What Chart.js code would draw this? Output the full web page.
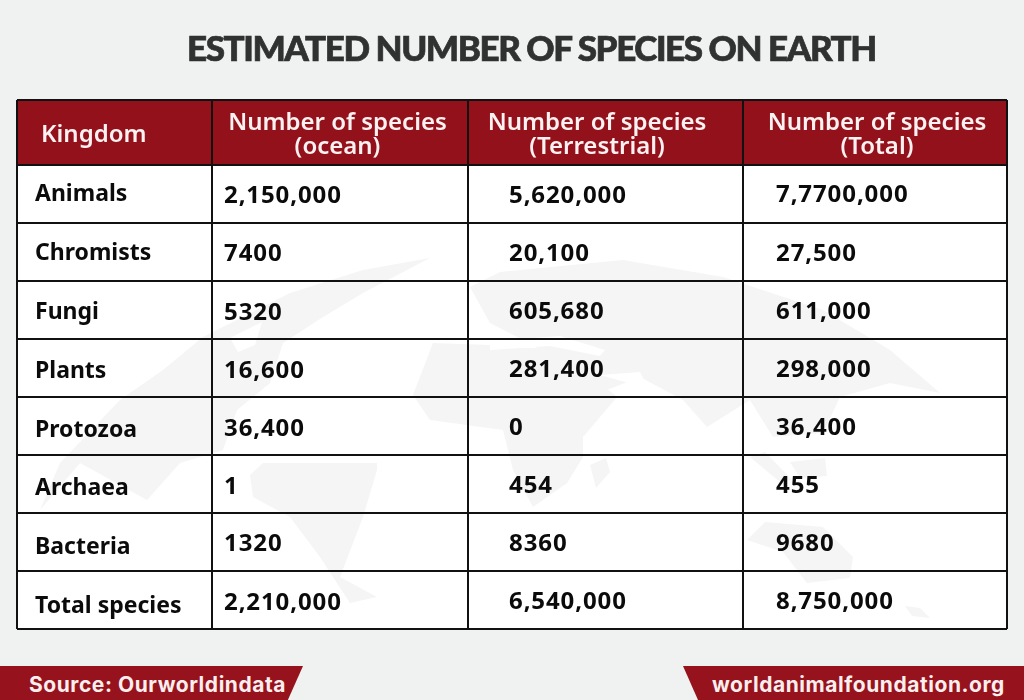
<!DOCTYPE html>
<html>
<head>
<meta charset="utf-8">
<title>Estimated number of species on Earth</title>
<script src="https://cdn.jsdelivr.net/npm/chart.js@4"></script>
<style>
  html, body { margin: 0; padding: 0; background: #f0f2f1; }
  #page { position: relative; width: 1024px; height: 700px; overflow: hidden; }
  canvas { position: absolute; left: 0; top: 0; }
  h1 { position: absolute; left: 187px; top: 26px; margin: 0; white-space: nowrap;
       font: 900 35px Lato, sans-serif; letter-spacing: -1.42px; -webkit-text-stroke: 0.7px #2f3231; color: #2f3231; }
  .tag { position: absolute; top: 666px; height: 34px; background: #96121c; color: #fbeeee;
         font: 700 21px/38px Inter, sans-serif; letter-spacing: 0.55px; white-space: nowrap; box-sizing: border-box; }
  #source { left: 0; width: 303px; padding-left: 29px; clip-path: polygon(0 0, 100% 0, 95% 100%, 0 100%); }
  #site { left: 683px; width: 341px; padding-left: 29px; clip-path: polygon(0 0, 100% 0, 100% 100%, 4.4% 100%); }
</style>
</head>
<body>
<div id="page">
  <canvas id="table" width="1024" height="700"></canvas>
  <h1>ESTIMATED NUMBER OF SPECIES ON EARTH</h1>
  <div class="tag" id="source">Source: Ourworldindata</div>
  <div class="tag" id="site">worldanimalfoundation.org</div>
</div>
<script>
// table content
const kingdoms = ['Animals', 'Chromists', 'Fungi', 'Plants', 'Protozoa', 'Archaea', 'Bacteria', 'Total species'];
const oceanSpecies = ['2,150,000', '7400', '5320', '16,600', '36,400', '1', '1320', '2,210,000'];
const terrestrialSpecies = ['5,620,000', '20,100', '605,680', '281,400', '0', '454', '8360', '6,540,000'];
const totalSpecies = ['7,7700,000', '27,500', '611,000', '298,000', '36,400', '455', '9680', '8,750,000'];
const headerLines = [['Kingdom'], ['Number of species', '(ocean)'], ['Number of species', '(Terrestrial)'], ['Number of species', '(Total)']];

// column edges and text starts, in x axis units
const columnEdges = [0, 195, 451, 726, 990];
const columnTextX = [18, 207, 492, 759];
const headerTextX = [24, 320.5, 580, 860];
const headerHeight = 65 / 58; // in rows

// the text in the picture is not quite centred, nudge per row (px)
const rowNudge = [
    [0.5, 1.5, 2.5, 3.5, 4.5, 4.5, 5.5, 6.5],
    [2.5, 2.5, 3.5, 3.5, 3.5, 3.5, 2.5, 3.5],
    [2.5, 2.5, 2.5, 2.5, 2.5, 2.5, 2.5, 2.5],
    [1.5, 2.5, 2.5, 2.5, 2.5, 2.5, 2.5, 2.5]
];

// faint world map behind the table, page pixels
const mapShapes = [
    [[40,510],[60,463],[120,400],[163,370],[203,337],[290,293],[363,270],[430,258],[363,293],[323,317],[283,343],[270,383],[237,410],[223,450],[180,463],[147,500],[80,463]],
    [[263,463],[377,463],[377,470],[363,517],[340,577],[377,597],[350,603],[320,557],[290,517],[253,497],[250,475]],
    [[413,395],[433,343],[490,345],[560,350],[617,397],[583,437],[583,457],[567,483],[533,507],[513,470],[503,430],[430,420]],
    [[590,465],[606,458],[610,472],[596,488]],
    [[470,287],[500,272],[623,260],[723,277],[823,310],[890,350],[940,393],[890,383],[840,397],[823,433],[773,437],[750,400],[707,427],[683,400],[640,377],[607,390],[523,340],[490,323]],
    [[750,457],[765,452],[792,480],[780,482]],
    [[790,462],[825,458],[827,476],[800,478]],
    [[747,540],[765,522],[823,527],[853,557],[850,578],[807,583],[783,552]],
    [[905,606],[920,608],[930,618],[912,616]]
];
// white gaps in the map: seas and bays
const mapGaps = [
    [[490,341],[560,336],[605,350],[600,356],[550,346],[490,350]],
    [[230,338],[262,322],[255,345],[238,352]],
    [[600,375],[640,372],[650,392],[625,382]]
];

const columns = [kingdoms, oceanSpecies, terrestrialSpecies, totalSpecies];

function columnDataset(values, c) {
    return {
        data: values.map((v, i) => ({ x: columnTextX[c], y: i + 0.5 })),
        label: 'col' + c,
        showLine: false,
        pointRadius: 0,
        cellText: values,
        nudge: rowNudge[c],
        textFont: c === 0 ? '700 23px "Noto Sans"' : '700 24px "Noto Sans"',
        textSpacing: c === 0 ? '0px' : '0.9px'
    };
}

function fillShapes(ctx, shapes, color) {
    ctx.fillStyle = color;
    shapes.forEach(shape => {
        ctx.beginPath();
        shape.forEach((p, i) => i ? ctx.lineTo(p[0], p[1]) : ctx.moveTo(p[0], p[1]));
        ctx.closePath();
        ctx.fill();
    });
}

const tableBackPlugin = {
    id: 'tableBack',
    beforeDraw(chart) {
        const { ctx, chartArea: a } = chart;
        ctx.save();
        ctx.fillStyle = '#ffffff';
        ctx.fillRect(a.left, a.top, a.width, a.height);
        fillShapes(ctx, mapShapes, '#f5f5f5');
        fillShapes(ctx, mapGaps, '#ffffff');
        ctx.restore();
    }
};

const cellTextPlugin = {
    id: 'cellText',
    afterDraw(chart) {
        const { ctx, scales } = chart;
        ctx.save();
        ctx.textBaseline = 'middle';
        ctx.fillStyle = '#0b0b0b';
        ctx.textAlign = 'left';
        chart.data.datasets.forEach((ds, d) => {
            if (!ds.cellText) return;
            const points = chart.getDatasetMeta(d).data;
            ctx.font = ds.textFont;
            ctx.letterSpacing = ds.textSpacing;
            ds.cellText.forEach((text, i) => {
                ctx.fillText(text, points[i].x, points[i].y + ds.nudge[i]);
            });
        });

        // header cells
        ctx.fillStyle = '#fdf1f1';
        ctx.font = '600 24px "Noto Sans"';
        ctx.letterSpacing = '0px';
        const headTop = scales.y.getPixelForValue(-headerHeight);
        headerLines.forEach((lines, c) => {
            const x = scales.x.getPixelForValue(headerTextX[c]);
            if (lines.length === 1) {
                ctx.textAlign = 'left';
                ctx.fillText(lines[0], x, headTop + 35);
                return;
            }
            ctx.textAlign = 'center';
            ctx.fillText(lines[0], x, headTop + 23);
            ctx.fillText(lines[1], x, headTop + 47);
        });
        ctx.restore();
    }
};

new Chart(document.getElementById('table'), {
    type: 'line',
    data: {
        datasets: [
            {
                label: 'header',
                data: [{ x: columnEdges[0], y: -headerHeight }, { x: columnEdges[4], y: -headerHeight }],
                borderWidth: 0,
                pointRadius: 0,
                backgroundColor: '#93111b',
                fill: { value: 0 }
            },
            ...columns.map(columnDataset)
        ]
    },
    options: {
        responsive: false,
        animation: false,
        events: [],
        layout: { padding: { left: 17, right: 17, top: 100, bottom: 71 } },
        plugins: { legend: { display: false }, tooltip: { enabled: false } },
        scales: {
            x: {
                type: 'linear',
                min: columnEdges[0],
                max: columnEdges[4],
                afterBuildTicks: axis => { axis.ticks = columnEdges.map(v => ({ value: v })); },
                ticks: { display: false },
                border: { display: false },
                grid: { color: '#111111', lineWidth: 2, drawTicks: false, z: 1 }
            },
            y: {
                type: 'linear',
                reverse: true,
                min: -headerHeight,
                max: kingdoms.length,
                afterBuildTicks: axis => {
                    axis.ticks = [-headerHeight, ...kingdoms.map((k, i) => i), kingdoms.length].map(v => ({ value: v }));
                },
                ticks: { display: false },
                border: { display: false },
                grid: { color: '#111111', lineWidth: 2, drawTicks: false, z: 1 }
            }
        }
    },
    plugins: [tableBackPlugin, cellTextPlugin]
});
</script>
</body>
</html>
